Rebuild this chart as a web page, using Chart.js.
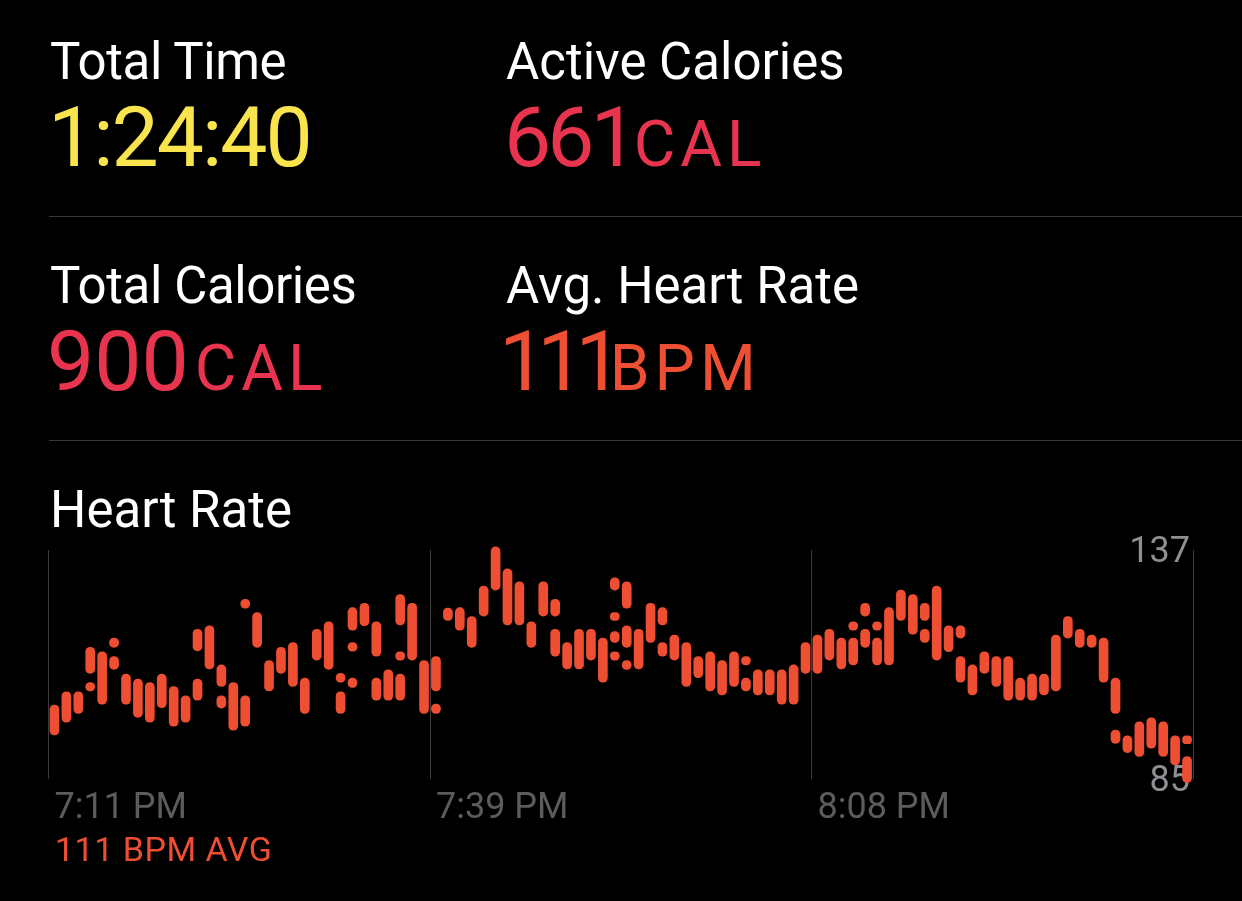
<!DOCTYPE html>
<html><head><meta charset="utf-8">
<script src="https://cdn.jsdelivr.net/npm/chart.js@4.4.1/dist/chart.umd.min.js"></script>
<style>
html,body{margin:0;padding:0;background:#000;width:1242px;height:901px;overflow:hidden;font-family:Roboto,sans-serif;}
.t{position:absolute;white-space:nowrap;line-height:1;}
.lbl{font-size:51px;color:#fff;}
.big{font-size:84px;}
.unit{font-size:64px;letter-spacing:5px;}
.sep{position:absolute;left:49px;right:0;height:1px;background:#38383a;}
canvas{position:absolute;left:0;top:0;}
</style></head><body>
<canvas id="c" width="1242" height="901"></canvas>
<div class="t lbl" style="left:50px;top:36px;letter-spacing:-0.4px">Total Time</div>
<div class="t big" style="left:48px;top:96px;color:#FAE44E;letter-spacing:-2px">1:24:40</div>
<div class="t lbl" style="left:506px;top:36px">Active Calories</div>
<div class="t big" style="left:504px;top:96px;color:#E8344F"><span style="letter-spacing:-4px">661</span><span class="unit" style="margin-left:0px">CAL</span></div>
<div class="sep" style="top:216px"></div>
<div class="t lbl" style="left:50px;top:260px;letter-spacing:-0.4px">Total Calories</div>
<div class="t big" style="left:47px;top:320px;color:#E8344F"><span style="letter-spacing:0px">900</span><span class="unit" style="margin-left:6px">CAL</span></div>
<div class="t lbl" style="left:506px;top:260px">Avg. Heart Rate</div>
<div class="t big" style="left:499px;top:320px;color:#EE4E31"><span style="letter-spacing:-9px">111</span><span class="unit" style="margin-left:-4px">BPM</span></div>
<div class="sep" style="top:440px"></div>
<div class="t lbl" style="left:50px;top:484px">Heart Rate</div>
<div class="t" style="left:55px;top:832px;font-size:34px;color:#EE4E31;letter-spacing:0.5px">111 BPM AVG</div>
<script>
// Main heart-rate range per sample column [low, high] in BPM
const mainRanges = [
 [95.0,101.8],[97.9,104.8],[99.9,104.8],[109.0,114.9],[102.0,113.9],[114.9,117.0],[102.0,108.8],[99.0,107.7],
 [97.9,106.9],[101.2,108.8],[97.0,106.0],[97.9,103.9],[114.1,119.0],[110.0,119.8],[106.0,110.9],[96.1,106.9],
 [123.8,125.8],[114.9,122.8],[105.0,111.9],[109.0,114.9],[106.0,116.0],[99.9,107.9],[112.0,119.0],[109.9,120.7],
 [107.0,109.0],[118.8,123.9],[119.8,124.9],[112.9,120.7],[102.9,109.8],[120.0,126.9],[112.0,124.9],[99.9,111.9],
 [105.0,112.8],[121.0,123.8],[118.8,123.9],[114.9,121.9],[122.0,128.8],[127.9,137.7],[120.0,132.7],[120.0,129.8],
 [114.9,120.7],[122.0,129.8],[122.0,125.8],[110.0,116.0],[110.0,119.0],[112.0,119.0],[107.0,117.0],[127.9,130.7],
 [123.8,129.8],[110.0,119.0],[116.0,124.9],[120.0,123.9],[112.0,117.7],[106.0,116.0],[108.0,112.8],[105.0,113.9],
 [104.1,111.9],[106.0,113.9],[110.9,112.8],[104.1,109.8],[104.1,109.8],[102.0,109.8],[102.0,110.9],[109.0,116.0],
 [109.0,117.7],[112.0,119.0],[110.0,117.0],[118.8,120.7],[122.0,124.9],[118.8,120.7],[110.9,123.9],[121.0,127.9],
 [117.9,126.9],[121.0,124.9],[112.0,128.8],[113.9,119.8],[117.0,119.8],[104.1,110.9],[109.0,113.9],[106.0,112.8],
 [102.9,112.8],[102.9,107.9],[102.9,108.8],[104.1,108.8],[105.0,117.7],[117.0,121.9],[114.9,119.0],[114.9,117.7],
 [107.0,117.0],[99.9,107.9],[91.0,94.8],[90.1,98.0],[92.0,98.9],[90.1,98.0],[88.2,94.8],[93.0,94.8]
];
// Additional (lower) segments: [column, low, high]
const extraRanges = [
 [3,105.0,106.9],[5,109.9,112.8],[12,102.9,107.7],[14,101.1,103.9],[16,97.0,103.9],[24,99.9,104.8],
 [25,114.0,116.0],[25,105.8,107.9],[27,102.9,107.9],[29,112.0,113.9],[29,102.9,108.8],[32,99.9,102.0],
 [42,112.9,119.0],[47,121.0,122.8],[47,116.0,118.5],[47,112.0,113.9],[48,114.9,119.8],[48,109.9,111.9],
 [51,112.9,116.0],[58,105.0,107.9],[67,110.9,117.0],[68,114.9,119.0],[69,110.9,117.0],[73,116.0,119.0],
 [76,107.0,112.8],[89,93.1,96.1],[95,84.2,90.1]
];
const timeTickIndex = [0, 32, 64];
const timeTickLabels = ['7:11 PM', '7:39 PM', '8:08 PM'];
const yTickValues = [85, 137];

const categories = mainRanges.map((_, i) => i);
const layers = [];
extraRanges.forEach(([col, lo, hi]) => {
  let k = 0;
  while (layers[k] && layers[k][col] !== null) k++;
  if (!layers[k]) layers[k] = new Array(mainRanges.length).fill(null);
  layers[k][col] = [lo, hi];
});
const barColor = '#EE4E31';
const datasets = [mainRanges, ...layers].map(d => ({ data: d, backgroundColor: barColor }));

new Chart(document.getElementById('c'), {
  type: 'bar',
  data: { labels: categories, datasets },
  options: {
    responsive: false, animation: false, devicePixelRatio: 1,
    layout: { padding: { top: 550, left: 48.5, right: 49, bottom: 62 } },
    plugins: { legend: { display: false }, tooltip: { enabled: false } },
    datasets: { bar: { barThickness: 9, borderRadius: 5, borderSkipped: false, grouped: false, clip: false } },
    scales: {
      x: {
        type: 'category', offset: true,
        grid: { offset: true, drawTicks: false, lineWidth: 1,
          color: ctx => (ctx.type !== 'tick' || timeTickIndex.includes(ctx.index)) ? '#3a3a3c' : 'rgba(0,0,0,0)' },
        border: { display: false },
        ticks: { autoSkip: false, maxRotation: 0, minRotation: 0, align: 'start', padding: 8,
          color: '#5c5c5f', font: { family: 'Roboto', size: 36 },
          callback: (v, i) => { const k = timeTickIndex.indexOf(i); return k >= 0 ? timeTickLabels[k] : ''; } },
        afterFit: s => { s.height = 60; }
      },
      y: {
        type: 'linear', position: 'right', min: 85, max: 137,
        grid: { display: false }, border: { display: false },
        afterBuildTicks: s => { s.ticks = yTickValues.map(v => ({ value: v })); },
        afterFit: s => { s.width = 0; },
        ticks: { mirror: true, padding: -3, labelOffset: 3, color: '#8e8e93', font: { family: 'Roboto', size: 36 } }
      }
    }
  }
});
</script>
</body></html>
